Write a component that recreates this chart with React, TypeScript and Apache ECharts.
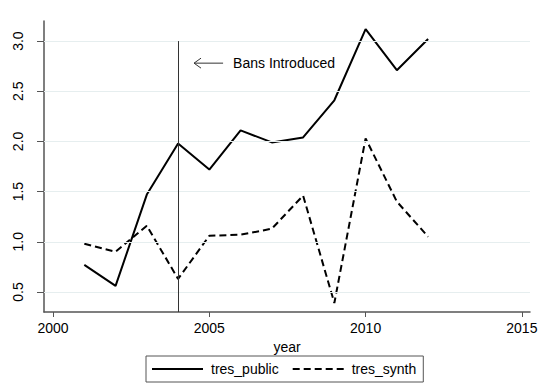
import React, { useEffect, useRef } from "react";
import * as echarts from "echarts";

const years = [2001, 2002, 2003, 2004, 2005, 2006, 2007, 2008, 2009, 2010, 2011, 2012];
const tresPublic = [0.77, 0.56, 1.47, 1.98, 1.72, 2.11, 1.99, 2.04, 2.41, 3.12, 2.71, 3.02];
const tresSynth = [0.98, 0.9, 1.16, 0.63, 1.06, 1.07, 1.13, 1.46, 0.39, 2.03, 1.4, 1.05];
const xTicks = [2000, 2005, 2010, 2015];
const yTicks = [0.5, 1.0, 1.5, 2.0, 2.5, 3.0];
const banYear = 2004;
const annotationText = "Bans Introduced";

const FONT = "'Liberation Sans', Arial, sans-serif";

const solidIcon = "path://M0,0L51,0L51,2L0,2Z";
const dashedIcon =
  "path://M0,0L7,0L7,2L0,2Z M11,0L18,0L18,2L11,2Z M22,0L29,0L29,2L22,2Z M33,0L40,0L40,2L33,2Z M44,0L51,0L51,2L44,2Z";

export default function App() {
  const ref = useRef<HTMLDivElement>(null);
  useEffect(() => {
    if (!ref.current) return;
    const chart = echarts.init(ref.current, undefined, { renderer: "svg" });
    const option: any = {
      animation: false,
      backgroundColor: "#fff",
      textStyle: { fontFamily: FONT },
      grid: { left: 44, top: 21, right: 20, bottom: 73 },
      xAxis: {
        type: "value",
        min: 1999.71,
        max: 2015.26,
        name: "year",
        nameLocation: "middle",
        nameGap: 27,
        nameTextStyle: { fontSize: 14, color: "#000", fontFamily: FONT },
        axisLine: { show: true, lineStyle: { color: "#555", width: 1.5 } },
        axisTick: { show: true, length: 5, customValues: xTicks, lineStyle: { color: "#555" } },
        axisLabel: {
          customValues: xTicks,
          fontSize: 14,
          color: "#000",
          margin: 9,
          fontFamily: FONT,
          formatter: (v: number) => String(Math.round(v)),
        },
        splitLine: { show: false },
      },
      yAxis: {
        type: "value",
        min: 0.3,
        max: 3.2,
        axisLine: { show: true, lineStyle: { color: "#555", width: 1.5 } },
        axisTick: { show: true, length: 7, customValues: yTicks, lineStyle: { color: "#555" } },
        axisLabel: {
          customValues: yTicks,
          fontSize: 14,
          color: "#000",
          rotate: 90,
          margin: 19,
          fontFamily: FONT,
          formatter: (v: number) => v.toFixed(1),
        },
        splitLine: { show: false },
      },
      legend: {
        left: 146,
        top: 356,
        orient: "horizontal",
        itemWidth: 51,
        itemHeight: 2,
        itemGap: 14,
        padding: [6, 7, 6, 6],
        borderColor: "#555",
        borderWidth: 1,
        itemStyle: { color: "#000", borderWidth: 0 },
        textStyle: { fontSize: 14, color: "#000", fontFamily: FONT, padding: [0, 0, 0, 3], lineHeight: 14 },
        data: [
          { name: "tres_public", icon: solidIcon },
          { name: "tres_synth", icon: dashedIcon },
        ],
      },
      series: [
        {
          name: "grid",
          type: "line",
          data: [],
          silent: true,
          markLine: {
            silent: true,
            symbol: ["none", "none"],
            label: { show: false },
            lineStyle: { color: "#e6eeef", width: 1, type: "solid" },
            data: yTicks.map((v) => ({ yAxis: v })),
          },
          z: 1,
        },
        {
          name: "tres_public",
          type: "line",
          data: years.map((y, i) => [y, tresPublic[i]]),
          showSymbol: false,
          symbol: "none",
          lineStyle: { color: "#000", width: 2, type: "solid" },
          itemStyle: { color: "#000" },
          z: 3,
          markLine: {
            silent: true,
            symbol: ["none", "none"],
            label: { show: false },
            lineStyle: { color: "#333", width: 1, type: "solid" },
            data: [[{ coord: [banYear, 3.0] }, { coord: [banYear, 0.3] }]],
          },
        },
        {
          name: "tres_synth",
          type: "line",
          data: years.map((y, i) => [y, tresSynth[i]]),
          showSymbol: false,
          symbol: "none",
          lineStyle: { color: "#000", width: 2, type: [7, 4] },
          itemStyle: { color: "#000" },
          z: 3,
        },
      ],
    };
    chart.setOption(option);

    const tip = chart.convertToPixel({ gridIndex: 0 }, [2004.51, 2.78]) as number[];
    const tail = chart.convertToPixel({ gridIndex: 0 }, [2005.44, 2.78]) as number[];
    chart.setOption({
      graphic: [
        {
          type: "line",
          shape: { x1: tip[0], y1: tip[1], x2: tail[0], y2: tail[1] },
          style: { stroke: "#333", lineWidth: 1 },
        },
        {
          type: "polyline",
          shape: { points: [[tip[0] + 7, tip[1] - 5], [tip[0], tip[1]], [tip[0] + 7, tip[1] + 5]] },
          style: { stroke: "#333", lineWidth: 1, fill: "none" },
        },
        {
          type: "text",
          x: tail[0] + 10,
          y: tail[1],
          style: {
            text: annotationText,
            fontSize: 14,
            fontFamily: FONT,
            fill: "#000",
            verticalAlign: "middle",
            align: "left",
          },
        },
      ],
    });
    return () => chart.dispose();
  }, []);
  return <div ref={ref} style={{ width: 550, height: 385, position: "absolute", left: 0, top: 0 }} />;
}
